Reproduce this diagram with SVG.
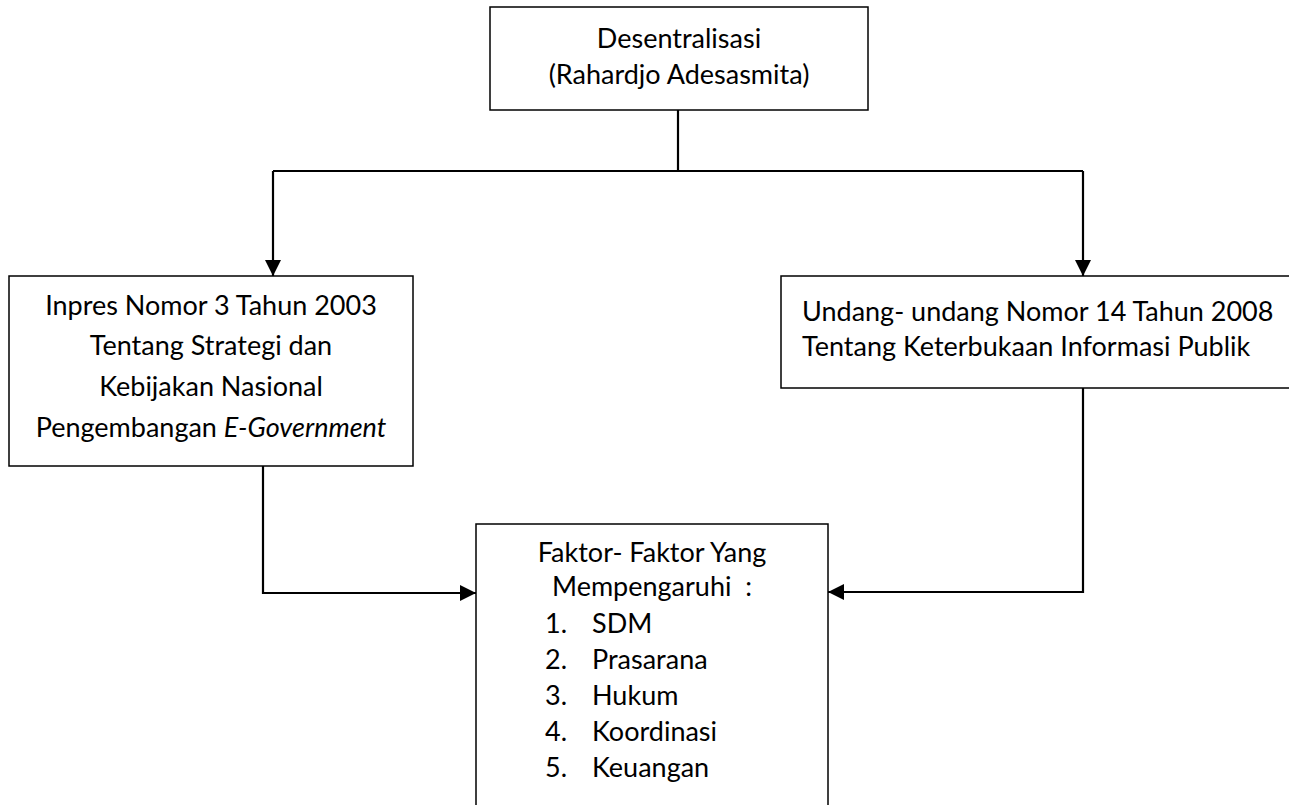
<svg xmlns="http://www.w3.org/2000/svg" width="1289" height="805" viewBox="0 0 1289 805">
<style>
.box{fill:#fff;stroke:#000;stroke-width:1.5}
.t{font-family:Lato,"Open Sans",sans-serif;font-size:27px;fill:#000}
.c{text-anchor:middle}
.con{fill:none;stroke:#000;stroke-width:2.2}
</style>
<defs>
<marker id="ah" markerUnits="userSpaceOnUse" markerWidth="17" markerHeight="16" refX="16" refY="8" orient="auto">
<path d="M0,0 L16,8 L0,16 Z" fill="#000"/>
</marker>
</defs>
<rect width="1289" height="805" fill="#fff"/>
<g id="connectors">
<path class="con" d="M678,110 V171"/>
<path class="con" d="M273,171 H1083"/>
<path class="con" d="M273,171 V276" marker-end="url(#ah)"/>
<path class="con" d="M1083,171 V276" marker-end="url(#ah)"/>
<path class="con" d="M263,466 V593 H476" marker-end="url(#ah)"/>
<path class="con" d="M1083,388 V592 H828" marker-end="url(#ah)"/>
</g>
<g id="desentralisasi">
<rect class="box" x="490" y="7" width="378" height="103"/>
<text class="t c" x="679" y="48">Desentralisasi</text>
<text class="t c" x="679" y="84">(Rahardjo Adesasmita)</text>
</g>
<g id="inpres">
<rect class="box" x="9" y="276" width="404" height="190"/>
<text class="t c" x="211" y="315">Inpres Nomor 3 Tahun 2003</text>
<text class="t c" x="211" y="355">Tentang Strategi dan</text>
<text class="t c" x="211" y="396">Kebijakan Nasional</text>
<text class="t c" x="211" y="437">Pengembangan <tspan font-style="italic">E-Government</tspan></text>
</g>
<g id="undang">
<rect class="box" x="781" y="276" width="520" height="112"/>
<text class="t" x="802" y="321">Undang- undang Nomor 14 Tahun 2008</text>
<text class="t" x="802" y="356">Tentang Keterbukaan Informasi Publik</text>
</g>
<g id="faktor">
<rect class="box" x="476" y="524" width="352" height="300"/>
<text class="t c" x="652" y="562">Faktor- Faktor Yang</text>
<text class="t c" x="652" y="596">Mempengaruhi&#160; :</text>
<text class="t" x="545" y="633">1.</text><text class="t" x="592" y="633">SDM</text>
<text class="t" x="545" y="669">2.</text><text class="t" x="592" y="669">Prasarana</text>
<text class="t" x="545" y="705">3.</text><text class="t" x="592" y="705">Hukum</text>
<text class="t" x="545" y="741">4.</text><text class="t" x="592" y="741">Koordinasi</text>
<text class="t" x="545" y="777">5.</text><text class="t" x="592" y="777">Keuangan</text>
</g>
</svg>
